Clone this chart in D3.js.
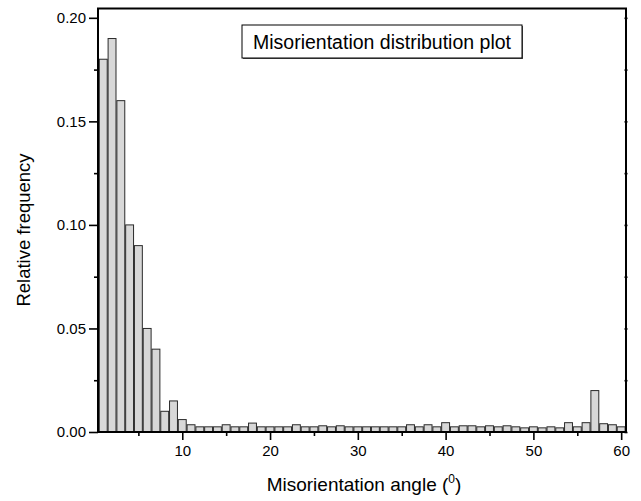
<!DOCTYPE html>
<html>
<head>
<meta charset="utf-8">
<script src="https://cdn.jsdelivr.net/npm/d3@7"></script>
<style>
  body { margin: 0; background: #fff; }
  text { font-family: "Liberation Sans", Arial, sans-serif; }
</style>
</head>
<body>
<script>
// DATA
var angles = d3.range(1, 61);
var freqs = [
  0.18, 0.19, 0.16, 0.10, 0.09, 0.05, 0.04, 0.010, 0.015, 0.006,
  0.0035, 0.0025, 0.0025, 0.0025, 0.0035, 0.0025, 0.0025, 0.0043, 0.0025, 0.0025,
  0.0025, 0.0025, 0.0035, 0.0025, 0.0025, 0.003, 0.0025, 0.003, 0.0025, 0.0025,
  0.0025, 0.0025, 0.0025, 0.0025, 0.0025, 0.0035, 0.0025, 0.0035, 0.0025, 0.0045,
  0.0025, 0.003, 0.003, 0.0025, 0.003, 0.0025, 0.003, 0.0025, 0.002, 0.0025,
  0.002, 0.0025, 0.002, 0.0045, 0.0025, 0.0045, 0.020, 0.004, 0.0035, 0.0025
];
var yTicks = [0, 0.05, 0.10, 0.15, 0.20];
var yMinor = [0.025, 0.075, 0.125, 0.175];
var xTicks = [10, 20, 30, 40, 50, 60];
var xMinor = [5, 15, 25, 35, 45, 55];

var svgContainer = d3.select("body").append("svg")
  .attr("width", 641)
  .attr("height", 501);

var plotLeft = 98, plotRight = 626, plotTop = 8.5, plotBottom = 432;

var x = d3.scaleLinear().domain([0.4, 60.55]).range([plotLeft, plotRight]);
var y = d3.scaleLinear().domain([0, 0.2045]).range([plotBottom, plotTop]);

// bars
svgContainer.append("g")
  .selectAll("rect")
  .data(angles)
  .enter().append("rect")
  .attr("x", function(d) { return x(d - 0.45); })
  .attr("y", function(d, i) { return y(freqs[i]); })
  .attr("width", function(d) { return x(d + 0.45) - x(d - 0.45); })
  .attr("height", function(d, i) { return y(0) - y(freqs[i]); })
  .attr("fill", "#d8d8d8")
  .attr("stroke", "#2a2a2a")
  .attr("stroke-width", 1);

// left axis
svgContainer.append("g")
  .attr("transform", "translate(" + plotLeft + ",0)")
  .call(d3.axisLeft(y).tickValues(yTicks).tickSize(9).tickPadding(3).tickFormat(d3.format(".2f")));
svgContainer.append("g")
  .attr("transform", "translate(" + plotLeft + ",0)")
  .call(d3.axisLeft(y).tickValues(yMinor).tickSize(4).tickFormat(""));

// bottom axis
svgContainer.append("g")
  .attr("transform", "translate(0," + plotBottom + ")")
  .call(d3.axisBottom(x).tickValues(xTicks).tickSize(8).tickPadding(5).tickFormat(d3.format("d")));
svgContainer.append("g")
  .attr("transform", "translate(0," + plotBottom + ")")
  .call(d3.axisBottom(x).tickValues(xMinor).tickSize(4).tickFormat(""));

// right axis little ticks
svgContainer.append("g")
  .attr("transform", "translate(" + (plotRight + 1.5) + ",0)")
  .call(d3.axisLeft(y).tickValues(yTicks.concat(yMinor)).tickSize(3).tickFormat(""));

svgContainer.selectAll(".domain").remove();
svgContainer.selectAll(".tick line")
  .attr("stroke", "#000")
  .attr("stroke-width", 1.6);
svgContainer.selectAll(".tick text")
  .style("font-size", "15px")
  .style("fill", "#000");

// frame
svgContainer.append("rect")
  .attr("x", plotLeft)
  .attr("y", plotTop)
  .attr("width", plotRight - plotLeft)
  .attr("height", plotBottom - plotTop)
  .attr("fill", "none")
  .attr("stroke", "#000")
  .attr("stroke-width", 2);

// title box
svgContainer.append("rect")
  .attr("x", 243)
  .attr("y", 26)
  .attr("width", 280)
  .attr("height", 33)
  .attr("fill", "#555");
svgContainer.append("rect")
  .attr("x", 242)
  .attr("y", 25)
  .attr("width", 280)
  .attr("height", 33)
  .attr("fill", "#fff")
  .attr("stroke", "#000")
  .attr("stroke-width", 1);
svgContainer.append("text")
  .attr("x", 382)
  .attr("y", 48.5)
  .attr("text-anchor", "middle")
  .style("font-size", "19.5px")
  .style("fill", "#000")
  .text("Misorientation distribution plot");

// axis titles
var xTitle = svgContainer.append("text")
  .attr("x", 364)
  .attr("y", 491)
  .attr("text-anchor", "middle")
  .style("font-size", "19px")
  .style("fill", "#000");
xTitle.append("tspan").text("Misorientation angle (");
xTitle.append("tspan").attr("dy", -8).style("font-size", "12px").text("0");
xTitle.append("tspan").attr("dy", 8).text(")");

svgContainer.append("text")
  .attr("transform", "translate(30,230) rotate(-90)")
  .attr("text-anchor", "middle")
  .style("font-size", "18.5px")
  .style("fill", "#000")
  .text("Relative frequency");
</script>
</body>
</html>
